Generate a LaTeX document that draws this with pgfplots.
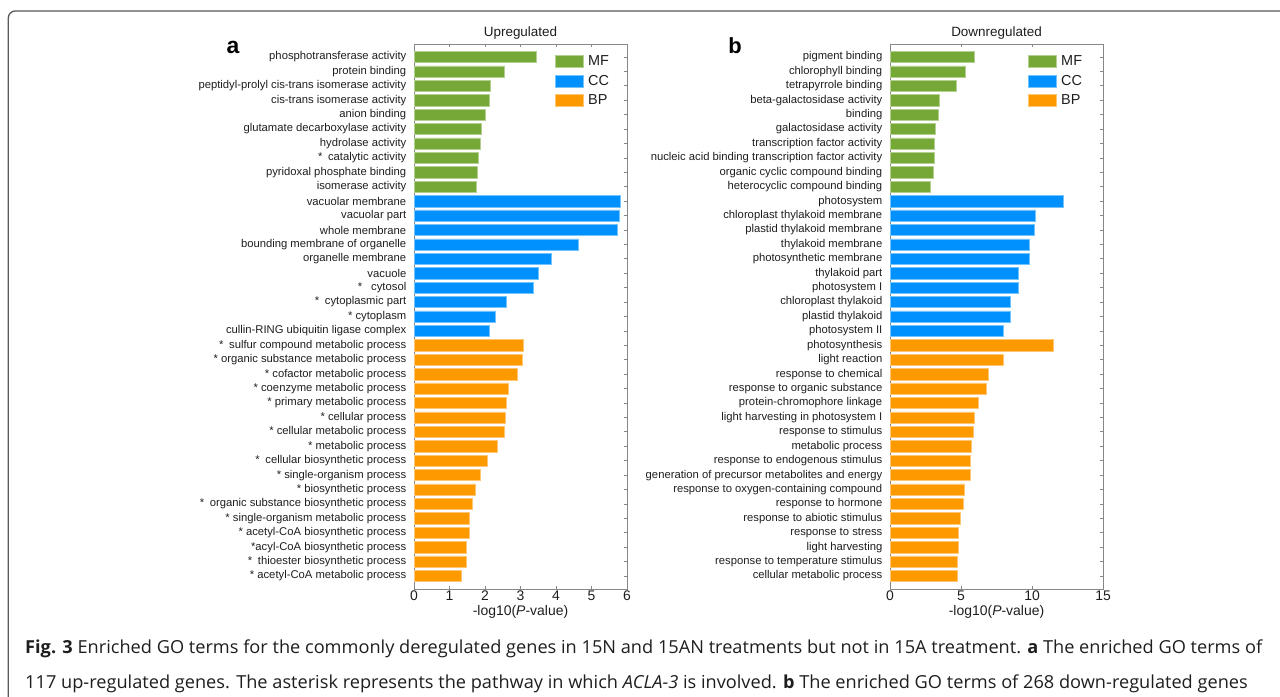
\documentclass[border=0pt]{standalone}
\usepackage{pgfplots}
\pgfplotsset{compat=1.18}
\usepackage{fontspec}
\setmainfont{Liberation Sans}
\newfontfamily\capfont{Open Sans}
\usepackage{graphicx}

\definecolor{mf}{RGB}{118,168,56}
\definecolor{cc}{RGB}{0,145,255}
\definecolor{bp}{RGB}{255,153,0}
\definecolor{axgray}{RGB}{135,135,135}
\definecolor{txt}{RGB}{30,30,30}

\pgfplotsset{
  golegend/.style={legend image code/.code={\fill[##1] (0bp,-6bp) rectangle (28bp,6bp);}},
  gobar/.style={
    scale only axis, width=213bp, height=545bp,
    xbar, bar shift=0pt, bar width=0.78,
    y dir=reverse, ymin=-0.9, ymax=36.9,
    ytick={0,...,36}, xmin=0,
    tick align=inside, major tick length=3bp,
    xtick pos=both, ytick pos=both,
    xticklabel pos=lower, yticklabel pos=left,
    /pgf/number format/assume math mode=true,
    axis line style={axgray, line width=0.8bp},
    every tick/.style={axgray, line width=0.7bp},
    xticklabel style={font=\fontsize{14}{16}\selectfont, text=txt, yshift=2bp},
    yticklabel style={font=\fontsize{11.3}{13}\selectfont, text=txt, xshift=-4.2bp},
    xlabel={-log10(\textit{P}-value)},
    xlabel style={font=\fontsize{14}{16}\selectfont, text=txt,
      at={(rel axis cs:0.5,0)}, anchor=center, yshift=-23bp},
    every axis title shift=0pt,
    title style={font=\fontsize{13.5}{16}\selectfont, text=txt,
      at={(rel axis cs:0.5,1)}, anchor=center, yshift=11bp},
    legend style={draw=none, fill=none, font=\fontsize{14.5}{16}\selectfont,
      inner sep=0pt, row sep=3.6bp, text=txt,
      nodes={inner xsep=4.5bp, inner ysep=2bp}},
    legend cell align=left,
    every axis plot post/.append style={golegend},
  },
}

\newsavebox\capA
\newsavebox\capB

\begin{document}
\sbox\capA{\capfont\fontsize{18}{20}\selectfont\color{txt}\textbf{Fig. 3} Enriched GO terms for the commonly deregulated genes in 15N and 15AN treatments but not in 15A treatment. \textbf{a} The enriched GO terms of}%
\sbox\capB{\capfont\fontsize{18}{20}\selectfont\color{txt}117 up-regulated genes. The asterisk represents the pathway in which \textit{ACLA-3} is involved. \textbf{b} The enriched GO terms of 268 down-regulated genes}%
\pgfmathsetmacro\sA{1237/(\the\wd\capA/1bp)}%
\begin{tikzpicture}[x=1bp,y=1bp]
\useasboundingbox (0,0) rectangle (1280,697);

% frame
\draw[black!65, line width=1.3bp, rounded corners=7bp] (1300,686) -- (8.3,686) -- (8.3,-20);

% panel a
\begin{axis}[gobar, at={(414bp,108bp)}, anchor=south west,
  title={Upregulated}, xmax=6, xtick={0,...,6},
  legend style={at={(0.662,0.982)}, anchor=north west},
  yticklabels={
    phosphotransferase activity, protein binding,
    peptidyl-prolyl cis-trans isomerase activity, cis-trans isomerase activity,
    anion binding, glutamate decarboxylase activity, hydrolase activity,
    *\hspace{0.5em}catalytic activity, pyridoxal phosphate binding, isomerase activity,
    vacuolar membrane, vacuolar part, whole membrane,
    bounding membrane of organelle, organelle membrane, vacuole,
    *\hspace{0.8em}cytosol, *\hspace{0.5em}cytoplasmic part, * cytoplasm,
    cullin-RING ubiquitin ligase complex,
    *\hspace{0.5em}sulfur compound metabolic process, * organic substance metabolic process,
    * cofactor metabolic process, * coenzyme metabolic process,
    * primary metabolic process, * cellular process, * cellular metabolic process,
    * metabolic process, *\hspace{0.5em}cellular biosynthetic process,
    * single-organism process, * biosynthetic process,
    *\hspace{0.5em}organic substance biosynthetic process, * single-organism metabolic process,
    * acetyl-CoA biosynthetic process, *acyl-CoA biosynthetic process,
    *\hspace{0.5em}thioester biosynthetic process, * acetyl-CoA metabolic process},
]
\addplot[fill=mf, draw=mf!55!white, line width=0.5bp] coordinates {
  (3.45,0) (2.55,1) (2.16,2) (2.11,3) (2.02,4)
  (1.89,5) (1.87,6) (1.80,7) (1.79,8) (1.76,9)};
\addplot[fill=cc, draw=cc!55!white, line width=0.5bp] coordinates {
  (5.80,10) (5.79,11) (5.72,12) (4.63,13) (3.87,14)
  (3.51,15) (3.37,16) (2.61,17) (2.30,18) (2.11,19)};
\addplot[fill=bp, draw=bp!55!white, line width=0.5bp] coordinates {
  (3.08,20) (3.05,21) (2.91,22) (2.65,23) (2.61,24) (2.57,25)
  (2.55,26) (2.35,27) (2.07,28) (1.87,29) (1.73,30) (1.65,31)
  (1.57,32) (1.55,33) (1.46,34) (1.46,35) (1.33,36)};
\legend{MF,CC,BP}
\end{axis}

% panel b
\begin{axis}[gobar, at={(890bp,108bp)}, anchor=south west,
  title={Downregulated}, xmax=15, xtick={0,5,10,15},
  legend style={at={(0.648,0.982)}, anchor=north west},
  yticklabels={
    pigment binding, chlorophyll binding, tetrapyrrole binding,
    beta-galactosidase activity, binding, galactosidase activity,
    transcription factor activity, nucleic acid binding transcription factor activity,
    organic cyclic compound binding, heterocyclic compound binding,
    photosystem, chloroplast thylakoid membrane, plastid thylakoid membrane,
    thylakoid membrane, photosynthetic membrane, thylakoid part, photosystem I,
    chloroplast thylakoid, plastid thylakoid, photosystem II,
    photosynthesis, light reaction, response to chemical,
    response to organic substance, protein-chromophore linkage,
    light harvesting in photosystem I, response to stimulus, metabolic process,
    response to endogenous stimulus, generation of precursor metabolites and energy,
    response to oxygen-containing compound, response to hormone,
    response to abiotic stimulus, response to stress, light harvesting,
    response to temperature stimulus, cellular metabolic process},
]
\addplot[fill=mf, draw=mf!55!white, line width=0.5bp] coordinates {
  (5.92,0) (5.33,1) (4.67,2) (3.50,3) (3.43,4)
  (3.19,5) (3.10,6) (3.10,7) (3.05,8) (2.84,9)};
\addplot[fill=cc, draw=cc!55!white, line width=0.5bp] coordinates {
  (12.20,10) (10.21,11) (10.19,12) (9.81,13) (9.77,14)
  (9.06,15) (9.04,16) (8.47,17) (8.45,18) (7.98,19)};
\addplot[fill=bp, draw=bp!55!white, line width=0.5bp] coordinates {
  (11.48,20) (8.00,21) (6.90,22) (6.78,23) (6.24,24) (5.92,25)
  (5.85,26) (5.70,27) (5.66,28) (5.66,29) (5.26,30) (5.16,31)
  (4.98,32) (4.83,33) (4.83,34) (4.74,35) (4.74,36)};
\legend{MF,CC,BP}
\end{axis}

% panel letters
\node[font=\bfseries\fontsize{23}{23}\selectfont, text=black] at (233,650) {a};
\node[font=\bfseries\fontsize{22}{22}\selectfont, text=black] at (735,651) {b};

% caption
\node[anchor=base west, inner sep=0pt] at (25,43) {\scalebox{\sA}[1]{\usebox\capA}};
\node[anchor=base west, inner sep=0pt] at (25,8) {\scalebox{\sA}[1]{\usebox\capB}};
\end{tikzpicture}
\end{document}
